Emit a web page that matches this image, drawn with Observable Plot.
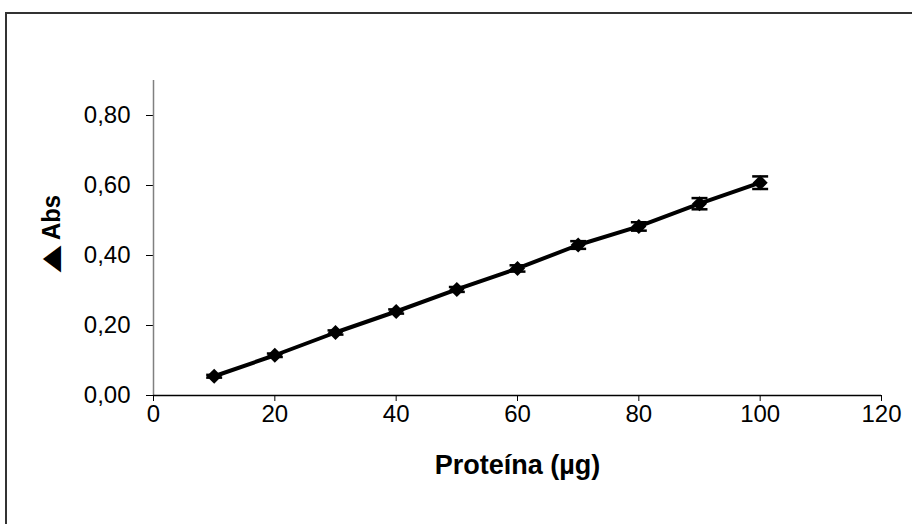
<!DOCTYPE html>
<html>
<head>
<meta charset="utf-8">
<script src="https://cdn.jsdelivr.net/npm/d3@7"></script>
<script src="https://cdn.jsdelivr.net/npm/@observablehq/plot@0.6"></script>
<style>
  html, body { margin: 0; padding: 0; background: #fff; }
  #wrap { position: relative; width: 912px; height: 524px; overflow: hidden; }
  #frame { position: absolute; left: 5px; top: 12px; width: 1000px; height: 1000px;
           border-left: 2px solid #333; border-top: 2px solid #333; }
  #chart { position: absolute; left: 0; top: 0; }
</style>
</head>
<body>
<div id="wrap"><div id="frame"></div><div id="chart"></div></div>
<script>
// Protein standard curve: amount of protein vs. change in absorbance
const protein  = [10, 20, 30, 40, 50, 60, 70, 80, 90, 100];
const deltaAbs = [0.055, 0.115, 0.180, 0.240, 0.303, 0.363, 0.430, 0.483, 0.548, 0.608];
const errors   = [0.004, 0.005, 0.006, 0.006, 0.007, 0.009, 0.011, 0.012, 0.016, 0.018];

const xTicks = [0, 20, 40, 60, 80, 100, 120];
const yTicks = [0, 0.2, 0.4, 0.6, 0.8];
const xTitle = "Proteína (µg)";
const yTitleSymbol = "▲";
const yTitleText = "Abs";

const rows = protein.map((p, i) => ({p, v: deltaAbs[i], e: errors[i]}));
const fmt = d => d.toFixed(2).replace(".", ",");

// horizontal cap used at the ends of each error bar
const cap = {
  draw(ctx, size) {
    const h = Math.sqrt(size / Math.PI) * 0.95;
    ctx.moveTo(-h, 0);
    ctx.lineTo(h, 0);
  }
};

const font = "'Liberation Sans', Arial, sans-serif";

const chart = Plot.plot({
  width: 912,
  height: 524,
  marginLeft: 153,
  marginRight: 31,
  marginTop: 80,
  marginBottom: 129,
  style: {fontFamily: font, fontSize: "24px", color: "#000", background: "transparent"},
  x: {domain: [0, 120]},
  y: {domain: [0, 0.9]},
  marks: [
    Plot.axisY(yTicks, {tickFormat: fmt, tickSize: 7, tickPadding: 16, fontSize: 24, label: null, stroke: "#000"}),
    Plot.axisX(xTicks, {tickSize: 6, tickPadding: 3, fontSize: 24, label: null, stroke: "#000"}),
    Plot.ruleX([0], {stroke: "#808080", strokeWidth: 1.5}),
    Plot.ruleY([0], {stroke: "#000", strokeWidth: 1.5}),
    Plot.ruleX(rows, {x: "p", y1: d => d.v - d.e, y2: d => d.v + d.e, stroke: "#000", strokeWidth: 2}),
    Plot.dot(rows, {x: "p", y: d => d.v + d.e, symbol: cap, r: 8.4, stroke: "#000", strokeWidth: 2.5}),
    Plot.dot(rows, {x: "p", y: d => d.v - d.e, symbol: cap, r: 8.4, stroke: "#000", strokeWidth: 2.5}),
    Plot.line(rows, {x: "p", y: "v", stroke: "#000", strokeWidth: 4}),
    Plot.dot(rows, {x: "p", y: "v", symbol: "diamond2", r: 6.8, fill: "#000", stroke: "none"}),
    Plot.text([xTitle], {text: d => d, frameAnchor: "bottom", dy: 78, fontWeight: "bold", fontSize: 27, fill: "#000"}),
    Plot.text([yTitleText], {text: d => d, frameAnchor: "left", dx: -102, dy: 2, rotate: -90,
      fontWeight: "bold", fontSize: 26, fill: "#000", className: "ytitle-text"}),
    Plot.text([yTitleSymbol], {text: d => d, frameAnchor: "left", dx: -102, dy: 44, rotate: -90,
      fontWeight: "bold", fontSize: 31, fill: "#000", className: "ytitle-sym"})
  ]
});

// the axis title glyphs are slightly condensed / widened along the text direction
const stretch = (sel, sx) => d3.select(chart).selectAll(sel).each(function() {
  const t = this.getAttribute("transform") || "";
  this.setAttribute("transform", t + ` scale(${sx},1)`);
});
stretch(".ytitle-text text", 0.92);
stretch(".ytitle-sym text", 1.5);

document.getElementById("chart").appendChild(chart);
</script>
</body>
</html>
